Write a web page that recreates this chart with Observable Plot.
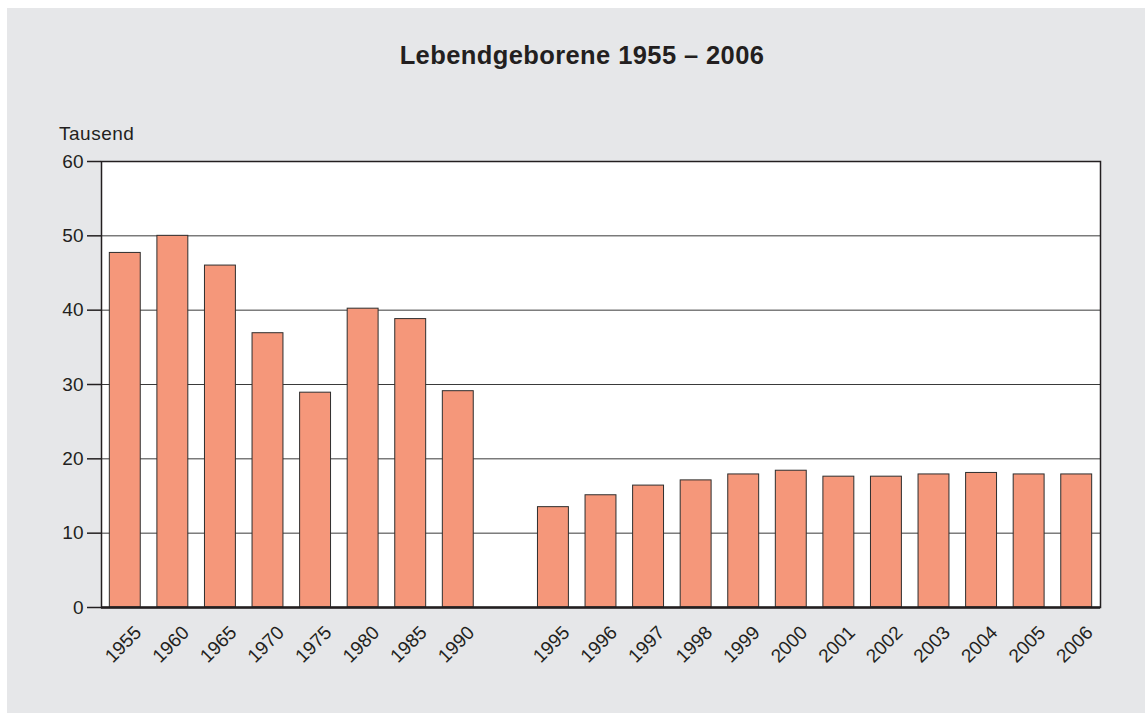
<!DOCTYPE html>
<html>
<head>
<meta charset="utf-8">
<script src="https://cdn.jsdelivr.net/npm/d3@7"></script>
<script src="https://cdn.jsdelivr.net/npm/@observablehq/plot@0.6"></script>
<style>
  html, body { margin: 0; padding: 0; background: #ffffff; }
  body { width: 1145px; height: 713px; position: relative; overflow: hidden;
         font-family: "Liberation Sans", Arial, Helvetica, sans-serif; color: #231f20; }
  #panel { position: absolute; left: 7px; top: 8px; width: 1138px; height: 705px; background: #e6e7e9; }
  #title { position: absolute; left: 0; top: 39px; width: 1164px; text-align: center;
           font-size: 25.5px; font-weight: bold; letter-spacing: 0.4px; line-height: 32px; }
  #unit { position: absolute; left: 59px; top: 122px; font-size: 19px; line-height: 24px; letter-spacing: 0.5px; }
  #chart { position: absolute; left: 7px; top: 120px; }
</style>
</head>
<body>
<div id="panel"></div>
<div id="title">Lebendgeborene 1955 – 2006</div>
<div id="unit">Tausend</div>
<div id="chart"></div>
<script>
const years = ["1955","1960","1965","1970","1975","1980","1985","1990",
               "1995","1996","1997","1998","1999","2000","2001","2002","2003","2004","2005","2006"];
const births = [47.7, 50.0, 46.0, 36.9, 28.9, 40.2, 38.8, 29.1,
                13.5, 15.1, 16.4, 17.1, 17.9, 18.4, 17.6, 17.6, 17.9, 18.1, 17.9, 17.9];
const gapSlot = "gap";
const yTicks = [0, 10, 20, 30, 40, 50, 60];
const gridValues = [10, 20, 30, 40, 50];

const data = years.map((year, i) => ({year, value: births[i]}));
const xDomain = [...years.slice(0, 8), gapSlot, ...years.slice(8)];

const chart = Plot.plot({
  width: 1138,
  height: 585,
  marginLeft: 94,
  marginRight: 45,
  marginTop: 41,
  marginBottom: 98,
  style: {background: "transparent", fontFamily: "'Liberation Sans', Arial, Helvetica, sans-serif", color: "#231f20"},
  x: {type: "band", domain: xDomain, paddingInner: 0.35, paddingOuter: 0.175, round: false, axis: null},
  y: {domain: [0, 60], axis: null},
  marks: [
    Plot.frame({fill: "white", stroke: "none"}),
    Plot.ruleY(gridValues, {stroke: "#3a3a3a", strokeWidth: 1}),
    Plot.barY(data, {x: "year", y: "value", fill: "#f5977a", stroke: "#2e2e2e", strokeWidth: 1}),
    Plot.frame({stroke: "#231f20", strokeWidth: 1.5}),
    Plot.ruleY([0], {stroke: "#231f20", strokeWidth: 2.5}),
    Plot.axisY({ticks: yTicks, tickSize: 14, tickPadding: 4, fontSize: 19, label: null, stroke: "#231f20", strokeWidth: 1.5, fill: "#231f20"}),
    Plot.text(years, {x: d => d, frameAnchor: "bottom", rotate: -45, textAnchor: "middle", lineAnchor: "middle",
                      dx: -2, dy: 37, fontSize: 19, fill: "#231f20"})
  ]
});
document.getElementById("chart").appendChild(chart);
</script>
</body>
</html>
